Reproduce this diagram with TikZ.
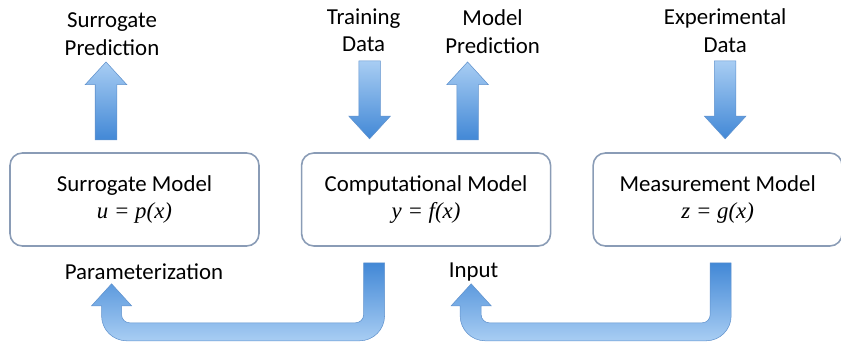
\documentclass[tikz,border=0pt]{standalone}
\usepackage{fontspec}
\setmainfont{Carlito}
\newfontfamily\eqfont{Liberation Serif}
\usepackage{xcolor}
\definecolor{boxline}{RGB}{138,156,182}
\definecolor{arrowdark}{RGB}{66,136,214}
\definecolor{arrowlight}{RGB}{168,205,243}
\definecolor{arrowedge}{RGB}{96,146,205}
\usetikzlibrary{shapes.arrows,positioning,calc}
\newcommand{\eq}[1]{{\eqfont\itshape #1}}

\begin{document}
\begin{tikzpicture}[
    mbox/.style={rectangle, rounded corners=7pt,
                 draw=boxline, line width=0.9pt, fill=white,
                 minimum width=4.98cm, minimum height=1.86cm,
                 align=center, font=\fontsize{13}{15}\selectfont},
    lbl/.style={align=center, inner sep=0pt,
                font=\fontsize{13}{15.5}\selectfont},
    blockarr/.style={single arrow, draw=arrowedge, line width=0.3pt,
                 minimum height=1.56cm, minimum width=0.82cm, inner sep=0.21cm,
                 single arrow head extend=0.2cm, single arrow tip angle=85,
                 top color=arrowlight, bottom color=arrowdark},
    uparr/.style={blockarr, shape border rotate=90, anchor=tail},
    downarr/.style={blockarr, shape border rotate=270, anchor=tip},
    backarr/.style={draw=arrowedge, line width=0.3pt,
                 top color=arrowdark, bottom color=arrowlight}
  ]
    \useasboundingbox (0,0) rectangle (16.82,6.86);

    % the three models
    \node[mbox] (surr) at (2.69,2.87) {Surrogate Model\\\eq{u = p(x)}};
    \node[mbox, right=0.82cm of surr] (comp) {Computational Model\\\eq{y = f(x)}};
    \node[mbox, right=0.82cm of comp] (meas) {Measurement Model\\\eq{z = g(x)}};

    % inputs and outputs on top
    \node[uparr] (sarr) at ([xshift=-0.57cm,yshift=0.24cm]surr.north) {};
    \node[downarr] (tarr) at ([xshift=-1.13cm,yshift=0.26cm]comp.north) {};
    \node[uparr] (marr) at ([xshift=0.83cm,yshift=0.24cm]comp.north) {};
    \node[downarr] (earr) at ([xshift=0.15cm,yshift=0.26cm]meas.north) {};

    \node[lbl] (slbl) at ([xshift=0.12cm,yshift=0.55cm]sarr.tip) {Surrogate\\Prediction};
    \node[lbl] (tlbl) at ([xshift=-0.12cm,yshift=0.6cm]tarr.tail) {Training\\Data};
    \node[lbl] (mlbl) at ([xshift=0.5cm,yshift=0.6cm]marr.tip) {Model\\Prediction};
    \node[lbl] (elbl) at ([yshift=0.6cm]earr.tail) {Experimental\\Data};

    % feedback loops underneath
    \node[lbl] (param) at ([xshift=0.19cm,yshift=-0.5cm]surr.south) {Parameterization};
    \node[lbl] (input) at ([xshift=0.95cm,yshift=-0.5cm]comp.south) {Input};

    \path[backarr] ([xshift=-1.25cm,yshift=-0.32cm]comp.south) -- ++(0.42,0)
        [rounded corners=0.5cm] -- ++(0,-1.56) -- ++(-5.66,0)
        [sharp corners] -- ++(0,0.7) -- ++(-0.2,0) -- ++(0.4,0.44)
        -- ++(0.4,-0.44) -- ++(-0.2,0)
        [rounded corners=0.16cm] -- ++(0,-0.34) -- ++(4.84,0)
        [sharp corners] -- cycle;
    \path[backarr] ([xshift=-0.15cm,yshift=-0.32cm]meas.south) -- ++(0.42,0)
        [rounded corners=0.5cm] -- ++(0,-1.56) -- ++(-5.42,0)
        [sharp corners] -- ++(0,0.7) -- ++(-0.18,0) -- ++(0.4,0.44)
        -- ++(0.4,-0.44) -- ++(-0.2,0)
        [rounded corners=0.16cm] -- ++(0,-0.34) -- ++(4.58,0)
        [sharp corners] -- cycle;
\end{tikzpicture}
\end{document}
